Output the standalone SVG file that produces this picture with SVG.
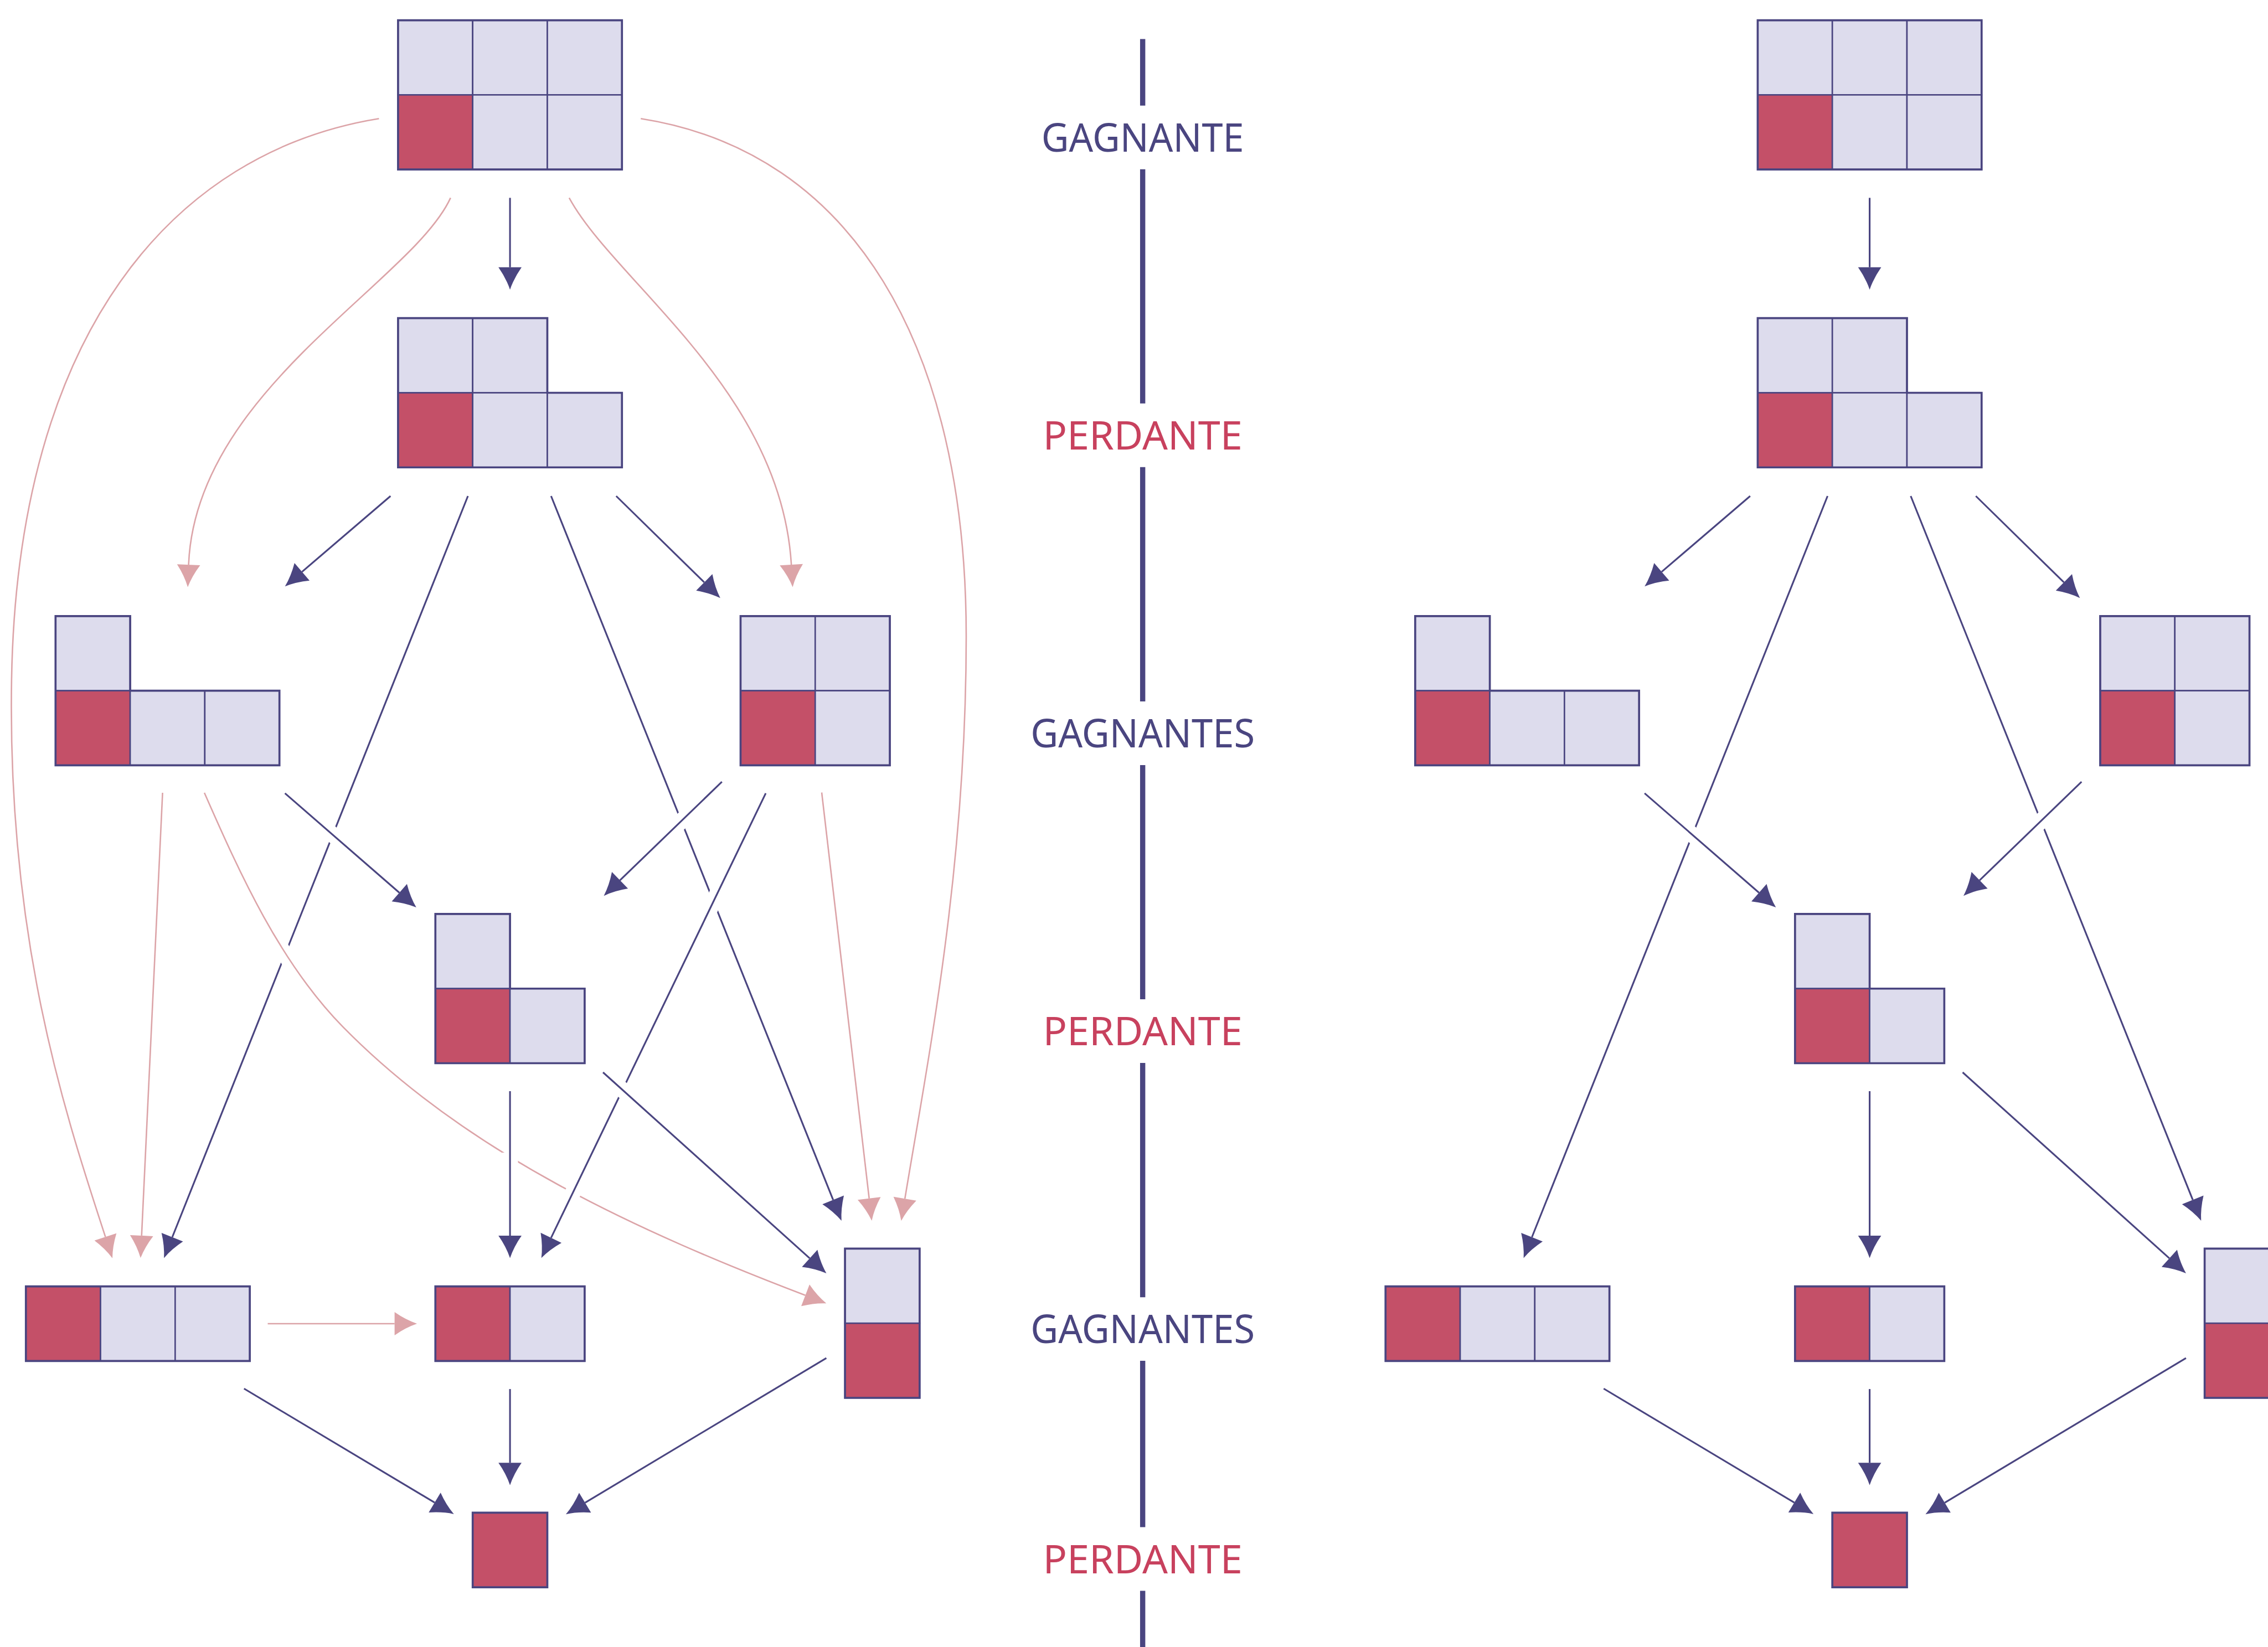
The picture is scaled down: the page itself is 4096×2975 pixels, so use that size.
<svg xmlns="http://www.w3.org/2000/svg" width="4096" height="2975" viewBox="0 0 4096 2975">
<style>
.c{stroke:#4A4580;stroke-width:1}
.l{fill:#DDDCED}
.r{fill:#C45068}
.o{fill:none;stroke:#4A4580;stroke-width:1.4}
.d{fill:none;stroke:#4A4580;stroke-width:1.2;marker-end:url(#hd)}
.p{fill:none;stroke:#DCA4A8;stroke-width:1.0;marker-end:url(#hp)}
.h{fill:none;stroke:#FFFFFF;stroke-width:11}
.t{font-family:"Noto Sans","DejaVu Sans",sans-serif;font-size:27.4px;text-anchor:middle}
.g{fill:#4A4580}
.k{fill:#C8415E}
.ax{stroke:#4A4580;stroke-width:3.6;fill:none}
</style>
<defs>
<marker id="hd" markerUnits="userSpaceOnUse" markerWidth="20" markerHeight="20" refX="0" refY="0" orient="auto" overflow="visible">
<path d="M15.5,0 Q7.75,-2.6 0,-8 L0,8 Q7.75,2.6 15.5,0 Z" fill="#4A4580"/>
</marker>
<marker id="hp" markerUnits="userSpaceOnUse" markerWidth="20" markerHeight="20" refX="0" refY="0" orient="auto" overflow="visible">
<path d="M15.5,0 Q7.75,-2.6 0,-8 L0,8 Q7.75,2.6 15.5,0 Z" fill="#DCA4A8"/>
</marker>
</defs>
<rect width="4096" height="2975" fill="#FFFFFF"/>
<g transform="scale(2.612245)">

<g id="axis">
<path class="ax" d="M790,27V73M790,117V279M790,323V485M790,529V691M790,735V897M790,941V1056M790,1100V1139"/>
<text class="t g" x="790" y="104.9" textLength="140" lengthAdjust="spacingAndGlyphs">GAGNANTE</text>
<text class="t k" x="790" y="310.8" textLength="138" lengthAdjust="spacingAndGlyphs">PERDANTE</text>
<text class="t g" x="790" y="516.8" textLength="155" lengthAdjust="spacingAndGlyphs">GAGNANTES</text>
<text class="t k" x="790" y="722.8" textLength="138" lengthAdjust="spacingAndGlyphs">PERDANTE</text>
<text class="t g" x="790" y="928.8" textLength="155" lengthAdjust="spacingAndGlyphs">GAGNANTES</text>
<text class="t k" x="790" y="1087.8" textLength="138" lengthAdjust="spacingAndGlyphs">PERDANTE</text>
</g>

<!-- LEFT TREE -->
<g id="connectors-left">
<path class="p" d="M262,82 C120,105 12,230 8,470 C5,650 45,770 72.9,855.3"/>
<path class="p" d="M311.5,136.8 C285,195 135,270 130.4,390.5"/>
<path class="p" d="M393.5,136.8 C425,195 540,270 547.1,390.5"/>
<path class="p" d="M443,82 C590,105 668,240 668,440 C668,600 642,730 625.6,828.9"/>
<path class="p" d="M112.4,548.2 L97.9,854.4"/>
<path class="p" d="M568.1,548 L600.9,828.7"/>
<path class="p" d="M185.1,915.3 L272.8,915.3"/>
<path class="d" d="M352.6,136.8 L352.6,184.8"/>
<path class="d" d="M270,343 L208.8,395.4"/>
<path class="d" d="M426,343 L486.9,402.7"/>
<path class="d" d="M323.5,343 L119.1,855.5"/>
<path class="d" d="M381,343 L576,829.7"/>
<path class="h" d="M193.5,654.4 L201.1,666.2"/>
<path class="p" d="M141.3,548.2 C166.1,604.7 193.6,665.7 237,710 C323.1,797.8 441.9,851.8 556.8,895.7"/>
<path class="h" d="M352.6,797 L352.6,811"/>
<path class="d" d="M352.6,754.5 L352.6,854.4"/>
<path class="h" d="M496.3,617 L490.3,629.6"/>
<path class="h" d="M397.7,821.3 L391.7,833.9"/>
<path class="d" d="M529.4,548.5 L381,855.9"/>
<path class="h" d="M425.2,749 L435.6,758.4"/>
<path class="d" d="M416.9,741.5 L559.8,870.1"/>
<path class="h" d="M224.4,572.3 L235,581.5"/>
<path class="h" d="M476.1,562.8 L466.1,572.6"/>
<path class="d" d="M197,548.5 L276.1,617.3"/>
<path class="d" d="M499.1,540.6 L428.6,608.7"/>
<path class="d" d="M168.7,960.2 L300.5,1039"/>
<path class="d" d="M352.6,960.5 L352.6,1011.5"/>
<path class="d" d="M571.3,939.1 L404.5,1039.1"/>
</g>

<g id="L-A">
<rect class="c l" x="275.2" y="14" width="51.6" height="51.6"/><rect class="c l" x="326.8" y="14" width="51.6" height="51.6"/><rect class="c l" x="378.4" y="14" width="51.6" height="51.6"/>
<rect class="c r" x="275.2" y="65.6" width="51.6" height="51.6"/><rect class="c l" x="326.8" y="65.6" width="51.6" height="51.6"/><rect class="c l" x="378.4" y="65.6" width="51.6" height="51.6"/>
<path class="o" d="M275.2,14h154.8v103.2h-154.8Z"/>
</g>
<g id="L-B">
<rect class="c l" x="275.2" y="220" width="51.6" height="51.6"/><rect class="c l" x="326.8" y="220" width="51.6" height="51.6"/>
<rect class="c r" x="275.2" y="271.6" width="51.6" height="51.6"/><rect class="c l" x="326.8" y="271.6" width="51.6" height="51.6"/><rect class="c l" x="378.4" y="271.6" width="51.6" height="51.6"/>
<path class="o" d="M275.2,220h103.2v51.6h51.6v51.6h-154.8Z"/>
</g>
<g id="L-C">
<rect class="c l" x="38.4" y="426" width="51.6" height="51.6"/>
<rect class="c r" x="38.4" y="477.6" width="51.6" height="51.6"/><rect class="c l" x="90" y="477.6" width="51.6" height="51.6"/><rect class="c l" x="141.6" y="477.6" width="51.6" height="51.6"/>
<path class="o" d="M38.4,426h51.6v51.6h103.2v51.6h-154.8Z"/>
</g>
<g id="L-D">
<rect class="c l" x="512" y="426" width="51.6" height="51.6"/><rect class="c l" x="563.6" y="426" width="51.6" height="51.6"/>
<rect class="c r" x="512" y="477.6" width="51.6" height="51.6"/><rect class="c l" x="563.6" y="477.6" width="51.6" height="51.6"/>
<path class="o" d="M512,426h103.2v103.2h-103.2Z"/>
</g>
<g id="L-E">
<rect class="c l" x="301" y="632" width="51.6" height="51.6"/>
<rect class="c r" x="301" y="683.6" width="51.6" height="51.6"/><rect class="c l" x="352.6" y="683.6" width="51.6" height="51.6"/>
<path class="o" d="M301,632h51.6v51.6h51.6v51.6h-103.2Z"/>
</g>
<g id="L-F">
<rect class="c r" x="17.9" y="889.5" width="51.6" height="51.6"/><rect class="c l" x="69.5" y="889.5" width="51.6" height="51.6"/><rect class="c l" x="121.1" y="889.5" width="51.6" height="51.6"/>
<path class="o" d="M17.9,889.5h154.8v51.6h-154.8Z"/>
</g>
<g id="L-G">
<rect class="c r" x="301" y="889.5" width="51.6" height="51.6"/><rect class="c l" x="352.6" y="889.5" width="51.6" height="51.6"/>
<path class="o" d="M301,889.5h103.2v51.6h-103.2Z"/>
</g>
<g id="L-H">
<rect class="c l" x="584.2" y="863.4" width="51.6" height="51.6"/>
<rect class="c r" x="584.2" y="915" width="51.6" height="51.6"/>
<path class="o" d="M584.2,863.4h51.6v103.2h-51.6Z"/>
</g>
<g id="L-I">
<rect class="c r" x="326.8" y="1046" width="51.6" height="51.6"/>
<path class="o" d="M326.8,1046h51.6v51.6h-51.6Z"/>
</g>

<!-- RIGHT TREE -->
<g transform="translate(940,0)">
<g id="connectors-right">
<path class="d" d="M352.6,136.8 L352.6,184.8"/>
<path class="d" d="M270,343 L208.8,395.4"/>
<path class="d" d="M426,343 L486.9,402.7"/>
<path class="d" d="M323.5,343 L119.1,855.5"/>
<path class="d" d="M381,343 L576,829.7"/>
<path class="h" d="M224.4,572.3 L235,581.5"/>
<path class="h" d="M476.1,562.8 L466.1,572.6"/>
<path class="d" d="M197,548.5 L276.1,617.3"/>
<path class="d" d="M499.1,540.6 L428.6,608.7"/>
<path class="d" d="M352.6,754.5 L352.6,854.4"/>
<path class="d" d="M416.9,741.5 L559.8,870.1"/>
<path class="d" d="M168.7,960.2 L300.5,1039"/>
<path class="d" d="M352.6,960.5 L352.6,1011.5"/>
<path class="d" d="M571.3,939.1 L404.5,1039.1"/>
</g>
<g id="R-A">
<rect class="c l" x="275.2" y="14" width="51.6" height="51.6"/><rect class="c l" x="326.8" y="14" width="51.6" height="51.6"/><rect class="c l" x="378.4" y="14" width="51.6" height="51.6"/>
<rect class="c r" x="275.2" y="65.6" width="51.6" height="51.6"/><rect class="c l" x="326.8" y="65.6" width="51.6" height="51.6"/><rect class="c l" x="378.4" y="65.6" width="51.6" height="51.6"/>
<path class="o" d="M275.2,14h154.8v103.2h-154.8Z"/>
</g>
<g id="R-B">
<rect class="c l" x="275.2" y="220" width="51.6" height="51.6"/><rect class="c l" x="326.8" y="220" width="51.6" height="51.6"/>
<rect class="c r" x="275.2" y="271.6" width="51.6" height="51.6"/><rect class="c l" x="326.8" y="271.6" width="51.6" height="51.6"/><rect class="c l" x="378.4" y="271.6" width="51.6" height="51.6"/>
<path class="o" d="M275.2,220h103.2v51.6h51.6v51.6h-154.8Z"/>
</g>
<g id="R-C">
<rect class="c l" x="38.4" y="426" width="51.6" height="51.6"/>
<rect class="c r" x="38.4" y="477.6" width="51.6" height="51.6"/><rect class="c l" x="90" y="477.6" width="51.6" height="51.6"/><rect class="c l" x="141.6" y="477.6" width="51.6" height="51.6"/>
<path class="o" d="M38.4,426h51.6v51.6h103.2v51.6h-154.8Z"/>
</g>
<g id="R-D">
<rect class="c l" x="512" y="426" width="51.6" height="51.6"/><rect class="c l" x="563.6" y="426" width="51.6" height="51.6"/>
<rect class="c r" x="512" y="477.6" width="51.6" height="51.6"/><rect class="c l" x="563.6" y="477.6" width="51.6" height="51.6"/>
<path class="o" d="M512,426h103.2v103.2h-103.2Z"/>
</g>
<g id="R-E">
<rect class="c l" x="301" y="632" width="51.6" height="51.6"/>
<rect class="c r" x="301" y="683.6" width="51.6" height="51.6"/><rect class="c l" x="352.6" y="683.6" width="51.6" height="51.6"/>
<path class="o" d="M301,632h51.6v51.6h51.6v51.6h-103.2Z"/>
</g>
<g id="R-F">
<rect class="c r" x="17.9" y="889.5" width="51.6" height="51.6"/><rect class="c l" x="69.5" y="889.5" width="51.6" height="51.6"/><rect class="c l" x="121.1" y="889.5" width="51.6" height="51.6"/>
<path class="o" d="M17.9,889.5h154.8v51.6h-154.8Z"/>
</g>
<g id="R-G">
<rect class="c r" x="301" y="889.5" width="51.6" height="51.6"/><rect class="c l" x="352.6" y="889.5" width="51.6" height="51.6"/>
<path class="o" d="M301,889.5h103.2v51.6h-103.2Z"/>
</g>
<g id="R-H">
<rect class="c l" x="584.2" y="863.4" width="51.6" height="51.6"/>
<rect class="c r" x="584.2" y="915" width="51.6" height="51.6"/>
<path class="o" d="M584.2,863.4h51.6v103.2h-51.6Z"/>
</g>
<g id="R-I">
<rect class="c r" x="326.8" y="1046" width="51.6" height="51.6"/>
<path class="o" d="M326.8,1046h51.6v51.6h-51.6Z"/>
</g>
</g>

</g>
</svg>
